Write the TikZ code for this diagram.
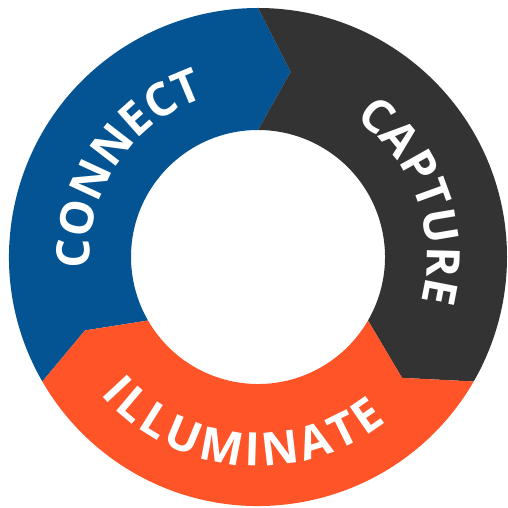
\documentclass[tikz,border=0pt]{standalone}
\usepackage{fontspec}
\setmainfont{Open Sans}
\usetikzlibrary{decorations.text}
\definecolor{connectblue}{RGB}{4,84,147}
\definecolor{capturegray}{RGB}{51,51,51}
\definecolor{illuminateorange}{RGB}{255,84,40}
\tikzset{
    ringlabel/.style={decorate, decoration={text along path, text align=fit to path, text color=white, text={|\bfseries\fontsize{46}{46}\selectfont|#1}}}
}

\begin{document}
\begin{tikzpicture}[x=1pt, y=1pt]
    \useasboundingbox (-258,-251) rectangle (250,257);
    \fill [connectblue] (210:249) arc [start angle=210, end angle=90, radius=249] -- (80:188) -- (90:127) arc [start angle=90, end angle=210, radius=127] -- (203:188) -- cycle;
    \fill [capturegray] (90:249) arc [start angle=90, end angle=-30, radius=249] -- (-40:188) -- (-30:127) arc [start angle=-30, end angle=90, radius=127] -- (80:188) -- cycle;
    \fill [illuminateorange] (-30:249) arc [start angle=-30, end angle=-150, radius=249] -- (-157:188) -- (-150:127) arc [start angle=-150, end angle=-30, radius=127] -- (-40:188) -- cycle;
    \path [ringlabel=CONNECT] (184:168) arc [start angle=184, end angle=111, radius=168];
    \path [ringlabel=CAPTURE] (55:169) arc [start angle=55, end angle=-15, radius=169];
    \path [ringlabel=ILLUMINATE] (221:209) arc [start angle=221, end angle=308, radius=209];
\end{tikzpicture}
\end{document}
